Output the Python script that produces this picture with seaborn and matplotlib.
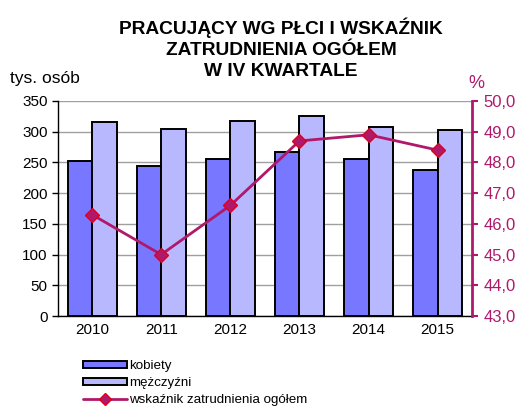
import matplotlib
matplotlib.use("Agg")
import matplotlib.pyplot as plt
from matplotlib.patches import Patch
from matplotlib.lines import Line2D
import seaborn as sns
import pandas as pd
import numpy as np

# Employed persons by sex (thousands) and employment rate (%) in Q4
years = ["2010", "2011", "2012", "2013", "2014", "2015"]
kobiety = [253, 244, 256, 267, 255, 237]
mezczyzni = [316, 304, 317, 326, 307, 302]
wskaznik = [46.3, 45.0, 46.6, 48.7, 48.9, 48.4]

left_ticks = [0, 50, 100, 150, 200, 250, 300, 350]
right_ticks = [43.0, 44.0, 45.0, 46.0, 47.0, 48.0, 49.0, 50.0]

sns.set_theme(style="white")
plt.rcParams["font.family"] = ["Liberation Sans", "DejaVu Sans"]
plt.rcParams["text.color"] = "black"

C_K = "#7777FF"
C_M = "#B8B8FF"
C_LINE = "#B0186B"

df = pd.DataFrame({
    "rok": years * 2,
    "liczba": kobiety + mezczyzni,
    "płeć": ["kobiety"] * len(years) + ["mężczyźni"] * len(years),
})

fig = plt.figure(figsize=(5.22, 4.12), dpi=100)
ax = fig.add_axes([57.5 / 522, 1 - 316 / 412, (472.3 - 57.5) / 522, (316 - 101) / 412])

sns.barplot(data=df, x="rok", y="liczba", hue="płeć",
            palette=[C_K, C_M], width=0.71, edgecolor="black",
            linewidth=1.4, ax=ax, legend=False, saturation=1)

ax.set_ylim(0, 350)
ax.set_xlim(-0.5, 5.5)
ax.set_yticks(left_ticks)
ax.set_yticklabels([str(t) for t in left_ticks], fontsize=11, color="black")
ax.set_xlabel("")
ax.set_ylabel("")
ax.tick_params(axis="x", length=0, labelsize=11, pad=5, colors="black")
ax.tick_params(axis="y", length=4, width=1, direction="out", left=True,
               pad=3, colors="black")
ax.yaxis.grid(True, color="#A0A0A0", linewidth=1)
ax.set_axisbelow(True)
for s in ["top", "right"]:
    ax.spines[s].set_visible(False)
ax.spines["left"].set_color("black")
ax.spines["left"].set_linewidth(1)
ax.spines["bottom"].set_color("black")
ax.spines["bottom"].set_linewidth(1)

ax2 = ax.twinx()
x = np.arange(len(years))
sns.lineplot(x=x, y=wskaznik, ax=ax2, color=C_LINE, linewidth=2,
             marker="D", markersize=7, markerfacecolor=C_LINE,
             markeredgecolor="#E0001B", markeredgewidth=1)
ax2.set_ylim(43, 50)
ax2.set_yticks(right_ticks)
ax2.set_yticklabels([f"{t:.1f}".replace(".", ",") for t in right_ticks],
                    fontsize=12, color=C_LINE)
ax2.tick_params(axis="y", length=4, width=1.5, direction="out", right=True,
                colors=C_LINE, pad=4)
ax2.set_xlim(-0.5, 5.5)
for s in ["top", "left", "bottom"]:
    ax2.spines[s].set_visible(False)
ax2.spines["right"].set_color(C_LINE)
ax2.spines["right"].set_linewidth(2)
ax2.grid(False)

fig.text(281 / 522, 1 - 18 / 412,
         "PRACUJĄCY WG PŁCI I WSKAŹNIK\nZATRUDNIENIA OGÓŁEM\nW IV KWARTALE",
         ha="center", va="top", fontsize=13.8, fontweight="bold",
         linespacing=1.3, color="black")
fig.text(10 / 522, 1 - 78 / 412, "tys. osób", ha="left", va="center",
         fontsize=12.5, color="black")
fig.text(476 / 522, 1 - 84 / 412, "%", ha="center", va="center", fontsize=13,
         color=C_LINE)

handles = [
    Patch(facecolor=C_K, edgecolor="black", linewidth=1.4),
    Patch(facecolor=C_M, edgecolor="black", linewidth=1.4),
    Line2D([0], [0], color=C_LINE, linewidth=2, marker="D", markersize=6,
           markerfacecolor=C_LINE, markeredgecolor="#E0001B"),
]
fig.legend(handles, ["kobiety", "mężczyźni", "wskaźnik zatrudnienia ogółem"],
           loc="upper left", bbox_to_anchor=(83 / 522, 1 - 360 / 412),
           frameon=False, fontsize=9.6, handlelength=3.3, handleheight=0.4,
           handletextpad=0.15, labelspacing=0.38, borderaxespad=0, borderpad=0)

fig.savefig("out.png", dpi=100)
